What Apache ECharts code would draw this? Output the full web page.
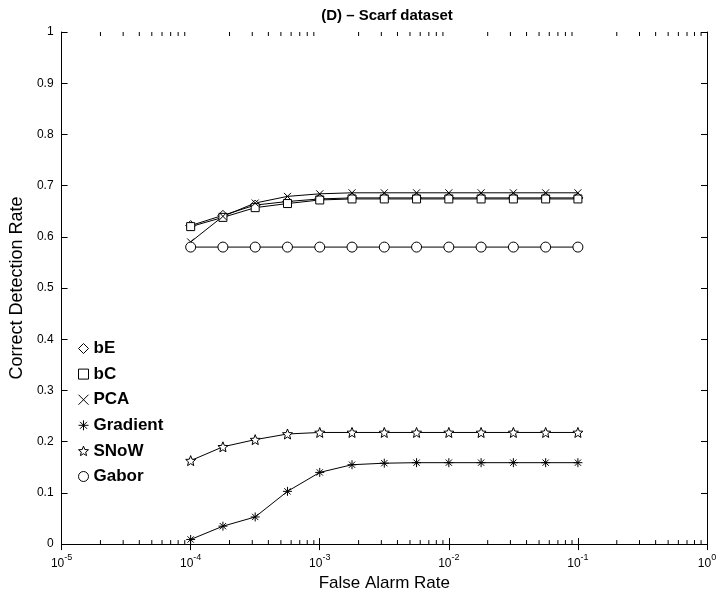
<!DOCTYPE html>
<html>
<head>
<meta charset="utf-8">
<script src="https://cdn.jsdelivr.net/npm/echarts@6/dist/echarts.min.js"></script>
<style>
html,body{margin:0;padding:0;background:#fff;}
#chart{width:720px;height:597px;}
</style>
</head>
<body>
<div id="chart"></div>
<script>
// ---- data ----
var falseAlarm = [1e-4, 1.778e-4, 3.162e-4, 5.623e-4, 1e-3, 1.778e-3, 3.162e-3, 5.623e-3, 1e-2, 1.778e-2, 3.162e-2, 5.623e-2, 1e-1];
var bE       = [0.622, 0.642, 0.662, 0.669, 0.674, 0.676, 0.676, 0.676, 0.676, 0.676, 0.676, 0.676, 0.676];
var bC       = [0.620, 0.638, 0.657, 0.665, 0.672, 0.674, 0.674, 0.674, 0.674, 0.674, 0.674, 0.674, 0.674];
var PCA      = [0.590, 0.640, 0.666, 0.679, 0.684, 0.686, 0.686, 0.686, 0.686, 0.686, 0.686, 0.686, 0.686];
var Gradient = [0.009, 0.035, 0.053, 0.103, 0.140, 0.155, 0.158, 0.159, 0.159, 0.159, 0.159, 0.159, 0.159];
var SNoW     = [0.163, 0.190, 0.204, 0.215, 0.218, 0.218, 0.218, 0.218, 0.218, 0.218, 0.218, 0.218, 0.218];
var Gabor    = [0.580, 0.580, 0.580, 0.580, 0.580, 0.580, 0.580, 0.580, 0.580, 0.580, 0.580, 0.580, 0.580];
var seriesNames = ['bE', 'bC', 'PCA', 'Gradient', 'SNoW', 'Gabor'];
var xDecades = [1e-5, 1e-4, 1e-3, 1e-2, 1e-1, 1];
var minorMultipliers = [2, 3, 4, 5, 6, 7, 8, 9];
var yTicks = [0, 0.1, 0.2, 0.3, 0.4, 0.5, 0.6, 0.7, 0.8, 0.9, 1];

var titleText = '(D) \u2013 Scarf dataset';
var xName = 'False Alarm Rate';
var yName = 'Correct Detection Rate';

// ---- build ----
function pair(ys) { return falseAlarm.map(function (x, i) { return [x, ys[i]]; }); }
var minorTicks = [];
for (var d = 0; d < xDecades.length - 1; d++) {
  for (var m = 0; m < minorMultipliers.length; m++) {
    minorTicks.push([xDecades[d] * minorMultipliers[m], 0]);
  }
}

var FONT = 'Liberation Sans, Arial, sans-serif';
var symbols = {
  bE: 'diamond',
  bC: 'rect',
  PCA: 'path://M0,0L10,10M10,0L0,10',
  Gradient: 'path://M5,0L5,10M0,5L10,5M1.5,1.5L8.5,8.5M8.5,1.5L1.5,8.5',
  SNoW: 'path://M5,0L6.29,3.22L9.76,3.45L7.09,5.68L7.94,9.05L5,7.2L2.06,9.05L2.91,5.68L0.24,3.45L3.71,3.22Z',
  Gabor: 'circle'
};
var sizes = { bE: 10, bC: 8, PCA: 7, Gradient: 9, SNoW: 10, Gabor: 10 };
var dataMap = { bE: bE, bC: bC, PCA: PCA, Gradient: Gradient, SNoW: SNoW, Gabor: Gabor };
var hollow = { bE: true, bC: true, PCA: false, Gradient: false, SNoW: true, Gabor: true };

var series = seriesNames.map(function (n) {
  return {
    name: n,
    type: 'line',
    data: pair(dataMap[n]),
    symbol: symbols[n],
    symbolSize: sizes[n],
    showAllSymbol: true,
    lineStyle: { color: '#000', width: 1 },
    itemStyle: { color: hollow[n] ? '#fff' : '#000', borderColor: '#000', borderWidth: 1 },
    emphasis: { disabled: true },
    animation: false,
    z: 3
  };
});

series.push({
  type: 'custom',
  name: 'minorTicks',
  data: minorTicks,
  silent: true,
  animation: false,
  clip: false,
  renderItem: function (params, api) {
    var v = api.value(0);
    var b = api.coord([v, 0]);
    var t = api.coord([v, 1]);
    return {
      type: 'group',
      children: [
        { type: 'line', shape: { x1: b[0], y1: b[1], x2: b[0], y2: b[1] - 4 }, style: { stroke: '#000', lineWidth: 1 } },
        { type: 'line', shape: { x1: t[0], y1: t[1], x2: t[0], y2: t[1] + 4 }, style: { stroke: '#000', lineWidth: 1 } }
      ]
    };
  }
});

var legendData = seriesNames.map(function (n) {
  return {
    name: n,
    icon: symbols[n],
    itemStyle: { color: hollow[n] ? '#fff' : '#000', borderColor: '#000', borderWidth: 1 }
  };
});

var option = {
  backgroundColor: '#fff',
  animation: false,
  title: {
    text: titleText,
    left: 382, textAlign: 'center',
    top: 3,
    textStyle: { fontFamily: FONT, fontSize: 15, fontWeight: 'bold', color: '#000' }
  },
  legend: {
    orient: 'vertical',
    left: 73, top: 335,
    itemWidth: 10, itemHeight: 10,
    itemGap: 8.6,
    data: legendData,
    textStyle: { fontFamily: FONT, fontSize: 17, fontWeight: 'bold', color: '#000', lineHeight: 17 }
  },
  grid: { left: 57, right: 13, top: 32, bottom: 52, containLabel: false },
  xAxis: [
    {
      type: 'log', logBase: 10, min: 1e-5, max: 1,
      position: 'bottom',
      name: xName, nameLocation: 'middle', nameGap: 29,
      nameTextStyle: { fontFamily: FONT, fontSize: 17, color: '#000' },
      axisLine: { show: true, lineStyle: { color: '#000', width: 1 } },
      axisTick: { show: true, inside: true, length: 6, lineStyle: { color: '#000' } },
      splitLine: { show: false },
      axisLabel: {
        color: '#000', margin: 7,
        formatter: function (v) {
          var e = Math.round(Math.log10(v));
          return '{b|10}{s|' + e + '}';
        },
        rich: {
          b: { fontFamily: FONT, fontSize: 12, color: '#000', padding: [7, 0, 0, 0] },
          s: { fontFamily: FONT, fontSize: 9, color: '#000', padding: [0, 0, 6, 0] }
        }
      }
    },
    {
      type: 'log', logBase: 10, min: 1e-5, max: 1,
      position: 'top',
      axisLine: { show: true, lineStyle: { color: '#000', width: 1 } },
      axisTick: { show: true, inside: true, length: 6, lineStyle: { color: '#000' } },
      axisLabel: { show: false },
      splitLine: { show: false }
    }
  ],
  yAxis: [
    {
      type: 'value', min: 0, max: 1, interval: 0.1,
      position: 'left',
      name: yName, nameLocation: 'middle', nameGap: 27,
      nameTextStyle: { fontFamily: FONT, fontSize: 18, color: '#000' },
      axisLine: { show: true, lineStyle: { color: '#000', width: 1 } },
      axisTick: { show: true, inside: true, length: 6, lineStyle: { color: '#000' } },
      splitLine: { show: false },
      axisLabel: {
        color: '#000', fontFamily: FONT, fontSize: 12, margin: 8,
        formatter: function (v) { return String(Math.round(v * 10) / 10); }
      }
    },
    {
      type: 'value', min: 0, max: 1, interval: 0.1,
      position: 'right',
      axisLine: { show: true, lineStyle: { color: '#000', width: 1 } },
      axisTick: { show: true, inside: true, length: 6, lineStyle: { color: '#000' } },
      axisLabel: { show: false },
      splitLine: { show: false }
    }
  ],
  series: series
};

var chart = echarts.init(document.getElementById('chart'), null, { renderer: 'canvas' });
chart.setOption(option);
</script>
</body>
</html>
